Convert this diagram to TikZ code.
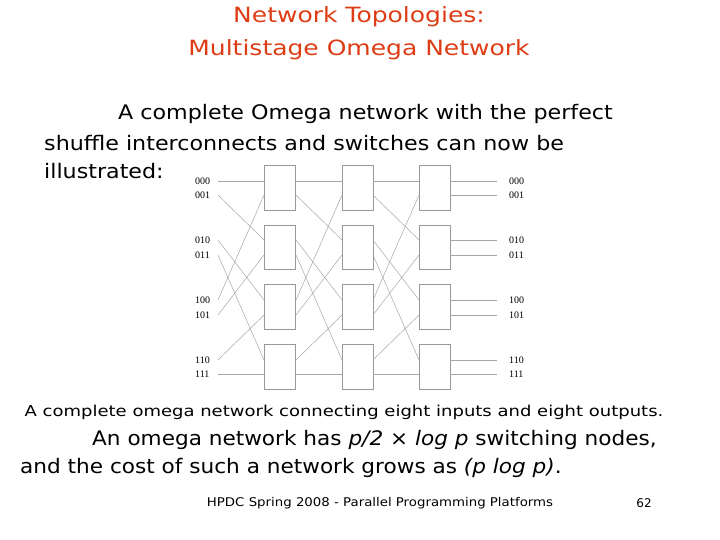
\documentclass[tikz,border=0pt]{standalone}
\usepackage{fontspec}
\setmainfont{DejaVu Sans}
\newfontfamily\lab{Liberation Serif}
\newcommand\sx[2]{\scalebox{#1}[1]{#2}}
\definecolor{ttl}{RGB}{222,60,20}
\begin{document}
\begin{tikzpicture}[x=1pt,y=-1pt,
  sw/.style={draw=gray!80,line width=0.6pt},
  ln/.style={draw=gray!70,line width=0.5pt},
  pl/.style={font=\lab\fontsize{10}{11}\selectfont,inner sep=0pt,anchor=west},
  txt/.style={inner sep=0pt,anchor=west,font=\fontsize{20}{22}\selectfont}]
\useasboundingbox (0,0) rectangle (720,540);
\node[inner sep=0pt,text=ttl,font=\fontsize{21}{23}\selectfont] (t1) at (359,17) {\sx{1.19}{Network Topologies:}};
\node[inner sep=0pt,text=ttl,font=\fontsize{21}{23}\selectfont] (t2) at (359,50) {\sx{1.19}{Multistage Omega Network}};
\node[txt] (l1) at (118,114) {\sx{1.11}{A complete Omega network with the perfect}};
\node[txt] (l2) at (44,143) {\sx{1.11}{shuffle interconnects and switches can now be}};
\node[txt] (l3) at (44,171) {\sx{1.11}{illustrated:}};
\def\ys{{181,195,240,255,300,315,360,374}}
\def\bt{{165,225,284,344}}
\def\bb{{210,269,329,389}}
\def\bx{{264,342,419}}
\foreach \c in {0,1,2}{
 \foreach \r in {0,...,3}{
  \pgfmathsetmacro\xa{\bx[\c]}\pgfmathsetmacro\ya{\bt[\r]}\pgfmathsetmacro\yb{\bb[\r]}
  \node[sw,minimum width=31pt,minimum height={\yb-\ya},inner sep=0pt,anchor=north west] (b\c\r) at (\xa,\ya) {};
 }}
\foreach \i/\s/\t in {0/0/000,1/2/001,2/4/010,3/6/011,4/1/100,5/3/101,6/5/110,7/7/111}{
  \pgfmathsetmacro\yi{\ys[\i]}\pgfmathsetmacro\yo{\ys[\s]}
  \node[pl] (in\i) at (195,\yi) {\t};
  \node[pl] (out\i) at (509,\yi) {\t};
  \coordinate (a\i) at (218,\yi);
  \coordinate (e\i) at (497,\yi);
  \draw[ln] (a\i) -- (264,\yo);
  \draw[ln] (296,\yi) -- (342,\yo);
  \draw[ln] (373,\yi) -- (419,\yo);
  \draw[ln] (450,\yi) -- (e\i);
}
\node[inner sep=0pt,font=\fontsize{15}{17}\selectfont] (cap) at (344,412) {\sx{1.2}{A complete omega network connecting eight inputs and eight outputs.}};
\node[txt] (l4) at (92,440) {\sx{1.08}{An omega network has \textit{p/2 × log p} switching nodes,}};
\node[txt] (l5) at (20,468) {\sx{1.08}{and the cost of such a network grows as \textit{(p log p)}.}};
\node[inner sep=0pt,font=\fontsize{12}{14}\selectfont] (f) at (380,503) {\sx{1.11}{HPDC Spring 2008 - Parallel Programming Platforms}};
\node[inner sep=0pt,font=\fontsize{12}{14}\selectfont] (n) at (644,503) {62};
\end{tikzpicture}
\end{document}
